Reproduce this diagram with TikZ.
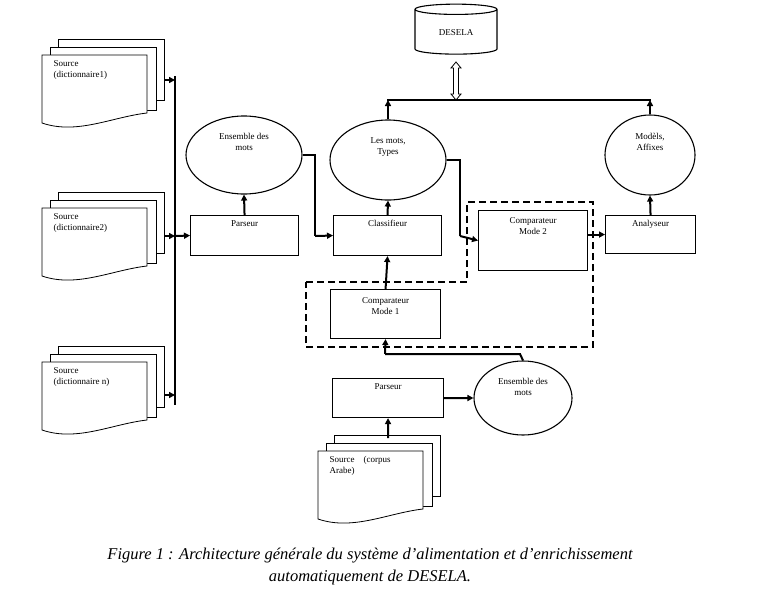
\documentclass[tikz,border=0pt]{standalone}
\usepackage{fontspec}
\setmainfont{Liberation Serif}
\usetikzlibrary{arrows.meta,shapes.geometric}
\tikzset{
  boite/.style={draw,line width=1.1pt,fill=white,minimum width=108pt,minimum height=40pt,font=\small,align=center,anchor=north west,inner sep=2pt},
  ovale/.style={draw,line width=1.1pt,ellipse,font=\small,align=center},
  fleche/.style={line width=2pt,-{Triangle[length=6pt,width=6pt]}},
  trait/.style={line width=2pt},
  feuille/.style={draw,fill=white,line width=0.8pt},
}
% une pile de trois feuilles, #1 = x gauche, #2 = y haut de la feuille avant
\newcommand\pilefeuilles[2]{
  \draw[feuille] (#1+16,#2-16) rectangle (#1+122,#2+45);
  \draw[feuille] (#1+8,#2-8) rectangle (#1+114,#2+55);
  \draw[feuille] (#1,#2) -- (#1+105,#2) -- (#1+105,#2+58)
    .. controls (#1+70,#2+62) and (#1+35,#2+80) .. (#1,#2+68) -- cycle;
}
\begin{document}
\begin{tikzpicture}[x=1pt,y=-1pt]
\useasboundingbox (0,0) rectangle (758,600);

% sources
\pilefeuilles{42}{55}
\pilefeuilles{42}{208}
\pilefeuilles{42}{362}
\pilefeuilles{318}{451}
\node[anchor=north west,font=\small,align=left] (src1) at (50,57) {Source\\(dictionnaire1)};
\node[anchor=north west,font=\small,align=left] (src2) at (50,210) {Source\\(dictionnaire2)};
\node[anchor=north west,font=\small,align=left] (src3) at (50,364) {Source\\(dictionnaire n)};
\node[anchor=north west,font=\small,align=left] (src4) at (326,453) {Source\quad (corpus\\Arabe)};
\coordinate (s1) at (164,80);
\coordinate (s2) at (164,236);
\coordinate (s3) at (164,395);
\coordinate (s4) at (388,438);

% base
\node[cylinder,shape border rotate=90,draw,line width=1.1pt,aspect=0.25,minimum width=82pt,minimum height=50pt,font=\small,fill=white] (desela) at (456,33) {DESELA\\[6pt]};
\draw[line width=0.8pt,fill=white] (456,62) -- (461,68) -- (458.5,68) -- (458.5,94) -- (461,94) -- (456,100)
  -- (451,94) -- (453.5,94) -- (453.5,68) -- (451,68) -- cycle;

% boites
\node[boite] (parseur) at (190,215) {Parseur\\[14pt]};
\node[boite] (classif) at (333,215) {Classifieur\\[14pt]};
\node[boite,minimum width=109pt,minimum height=60pt] (mode2) at (478,210) {Comparateur\\Mode 2\\[18pt]};
\node[boite,minimum width=90pt,minimum height=38pt] (analyse) at (605,215) {Analyseur\\[12pt]};
\node[boite,minimum width=110pt,minimum height=49pt] (mode1) at (330,289) {Comparateur\\Mode 1\\[6pt]};
\node[boite,minimum width=111pt,minimum height=39pt] (parseur2) at (332,378) {Parseur\\[12pt]};

% ovales
\node[ovale,minimum width=116pt,minimum height=78pt] (ens1) at (244,155) {Ensemble des\\mots\\[16pt]};
\node[ovale,minimum width=116pt,minimum height=80pt] (mots) at (388,160) {Les mots,\\Types\\[16pt]};
\node[ovale,minimum width=90pt,minimum height=80pt] (modeles) at (650,155) {Modèls,\\Affixes\\[16pt]};
\node[ovale,minimum width=98pt,minimum height=74pt] (ens2) at (523,398) {Ensemble des\\mots\\[12pt]};

% cadre pointille
\draw[line width=2pt,dash pattern=on 7pt off 4pt] (306,282) -- (467,282) -- (467,202) -- (593,202) -- (593,347) -- (306,347) -- cycle;

% bus des sources
\draw[trait] (175,76) -- (175,405);
\draw[fleche] (s1) -- (175,80);
\draw[fleche] (s2) -- (175,236);
\draw[fleche] (s3) -- (175,395);
\draw[fleche] (175,236) -- (parseur.west);

% connexions
\draw[fleche] (parseur.north) -- (ens1.south);
\draw[trait] (ens1.east) -- (315,155);
\draw[trait] (315,154) -- (315,236);
\draw[fleche] (315,236) -- (classif.west);
\draw[fleche] (classif.north) -- (mots.south);
\draw[trait] (mots.east) -- (460,160);
\draw[trait] (460,159) -- (460,236);
\draw[fleche] (460,236) -- (mode2.west);
\draw[fleche] (mode2.east|-analyse.west) -- (analyse.west);
\draw[fleche] (analyse.north) -- (modeles.south);
\draw[fleche] (mode1.north) -- (classif.south);
\draw[fleche] (mots.north) -- (mots.north|-0,100);
\draw[fleche] (modeles.north) -- (modeles.north|-0,100);
\draw[trait] (387,100) -- (651,100);
\draw[trait] (ens2.north) -- (520,354) -- (385,354);
\draw[fleche] (385,354) -- (mode1.south);
\draw[fleche] (s4) -- (parseur2.south);
\draw[fleche] (parseur2.east) -- (ens2.west);

% legende
\node[font=\fontsize{16.5}{22}\selectfont\itshape,align=center] (legende) at (370,567) {Figure 1 : Architecture générale du système d'alimentation et d'enrichissement\\automatiquement de DESELA.};
\end{tikzpicture}
\end{document}
